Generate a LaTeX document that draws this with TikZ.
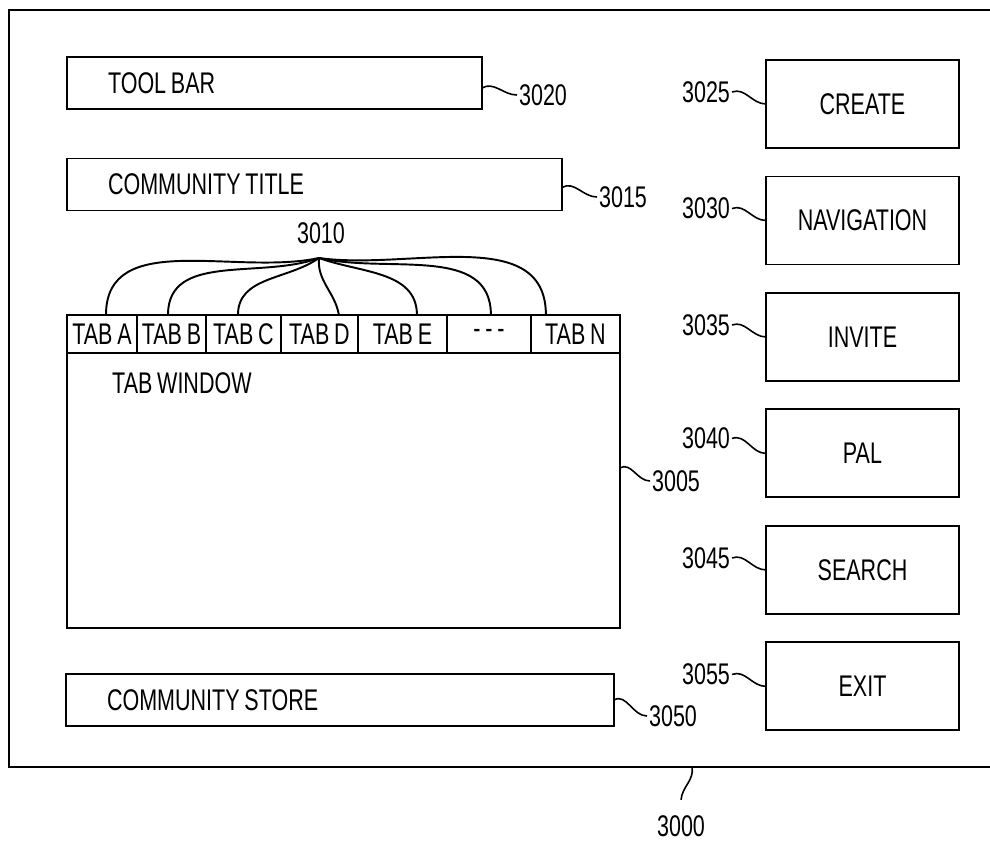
\documentclass[tikz,border=0pt]{standalone}
\usepackage{fontspec}
\setmainfont{Liberation Sans}[FakeStretch=0.72, WordSpace=0.8]
\usepackage{tikz}
\usetikzlibrary{positioning}

\begin{document}
\begin{tikzpicture}[x=0.02cm, y=0.02cm,
  font=\fontsize{17}{20}\selectfont,
  frame/.style={line width=1.1pt},
  bar/.style={rectangle, draw, line width=1.1pt, minimum height=1.04cm, inner xsep=0.82cm, inner ysep=0pt, outer sep=0pt, align=flush left},
  tab/.style={rectangle, draw, line width=1.1pt, minimum height=0.76cm, inner sep=0pt, outer sep=0pt},
  win/.style={rectangle, draw, line width=1.1pt, minimum width=11.06cm, minimum height=5.5cm, inner sep=0pt, outer sep=0pt},
  btn/.style={rectangle, draw, line width=1.1pt, minimum width=3.86cm, minimum height=1.76cm, inner sep=0pt, outer sep=0pt},
  num/.style={inner sep=1pt},
  lead/.style={line width=0.9pt},
  fanline/.style={line width=1.1pt}
]
\useasboundingbox (0,0) rectangle (990,-840);
\draw[frame] (990,-10) -- (9,-10) -- (9,-767) -- (990,-767);

\node[bar, text width=6.66cm] (toolbar) at (274.5,-83) {TOOL BAR};
\node[bar, text width=8.26cm] (title) at (314.5,-184.5) {COMMUNITY TITLE};
\node[bar, text width=9.32cm] (store) at (340,-700) {COMMUNITY STORE};

\node[tab, minimum width=1.40cm, anchor=north west] (tabA) at (67,-315) {TAB A};
\node[tab, minimum width=1.38cm, right=0pt of tabA] (tabB) {TAB B};
\node[tab, minimum width=1.50cm, right=0pt of tabB] (tabC) {TAB C};
\node[tab, minimum width=1.54cm, right=0pt of tabC] (tabD) {TAB D};
\node[tab, minimum width=1.78cm, right=0pt of tabD] (tabE) {TAB E};
\node[tab, minimum width=1.68cm, right=0pt of tabE] (tabdots) {- - -};
\node[tab, minimum width=1.78cm, right=0pt of tabdots] (tabN) {TAB N};
\node[win, anchor=north west] (tabwin) at (tabA.south west) {};
\node[anchor=west] (wintext) at (106,-383) {TAB WINDOW};

\node[num] (n3010) at (321,-233) {3010};
\coordinate (fan) at (319,-258);
\draw[fanline] (fan) to[out=192,in=90] ([xshift=0.08cm]tabA.north);
\draw[fanline] (fan) to[out=200,in=90] ([xshift=-0.07cm]tabB.north);
\draw[fanline] (fan) to[out=215,in=90] ([xshift=-0.11cm]tabC.north);
\draw[fanline] (fan) to[out=-95,in=100] ([xshift=0.39cm]tabD.north);
\draw[fanline] (fan) to[out=-20,in=90] ([xshift=0.29cm]tabE.north);
\draw[fanline] (fan) to[out=-13,in=90] ([xshift=0.04cm]tabdots.north);
\draw[fanline] (fan) to[out=-8,in=90] ([xshift=-0.59cm]tabN.north);

\node[num, anchor=west] (n3020) at (517,-95) {3020};
\node[num, anchor=west] (n3015) at (597,-197) {3015};
\node[num, anchor=west] (n3005) at (650,-481) {3005};
\node[num, anchor=west] (n3050) at (647,-716) {3050};
\draw[lead] ([yshift=-0.1cm]toolbar.east) to[out=30,in=180] (n3020.west);
\draw[lead] ([yshift=-0.06cm]title.east) to[out=30,in=180] (n3015.west);
\draw[lead] ([yshift=0.45cm]tabwin.east) to[out=30,in=180] (n3005.west);
\draw[lead] (store.east) to[out=30,in=180] (n3050.west);

\node[btn] (create) at (862.5,-104) {CREATE};
\node[btn, below=0.57cm of create] (nav) {NAVIGATION};
\node[btn, below=0.57cm of nav] (invite) {INVITE};
\node[btn, below=0.57cm of invite] (pal) {PAL};
\node[btn, below=0.57cm of pal] (search) {SEARCH};
\node[btn, below=0.57cm of search] (exit) {EXIT};

\node[num, left=0.68cm of create.west, yshift=0.24cm] (n3025) {3025};
\node[num, left=0.68cm of nav.west, yshift=0.24cm] (n3030) {3030};
\node[num, left=0.68cm of invite.west, yshift=0.24cm] (n3035) {3035};
\node[num, left=0.68cm of pal.west, yshift=0.3cm] (n3040) {3040};
\node[num, left=0.68cm of search.west, yshift=0.24cm] (n3045) {3045};
\node[num, left=0.68cm of exit.west, yshift=0.24cm] (n3055) {3055};
\draw[lead] (n3025.east) to[out=20,in=180] (create.west);
\draw[lead] (n3030.east) to[out=20,in=180] (nav.west);
\draw[lead] (n3035.east) to[out=20,in=180] (invite.west);
\draw[lead] (n3040.east) to[out=20,in=180] (pal.west);
\draw[lead] (n3045.east) to[out=20,in=180] (search.west);
\draw[lead] (n3055.east) to[out=20,in=180] (exit.west);

\coordinate (framebot) at (692,-767);
\node[num] (n3000) at (681,-826) {3000};
\draw[lead] (framebot) to[out=-80,in=85] ([yshift=0.27cm]n3000.north);
\end{tikzpicture}
\end{document}
